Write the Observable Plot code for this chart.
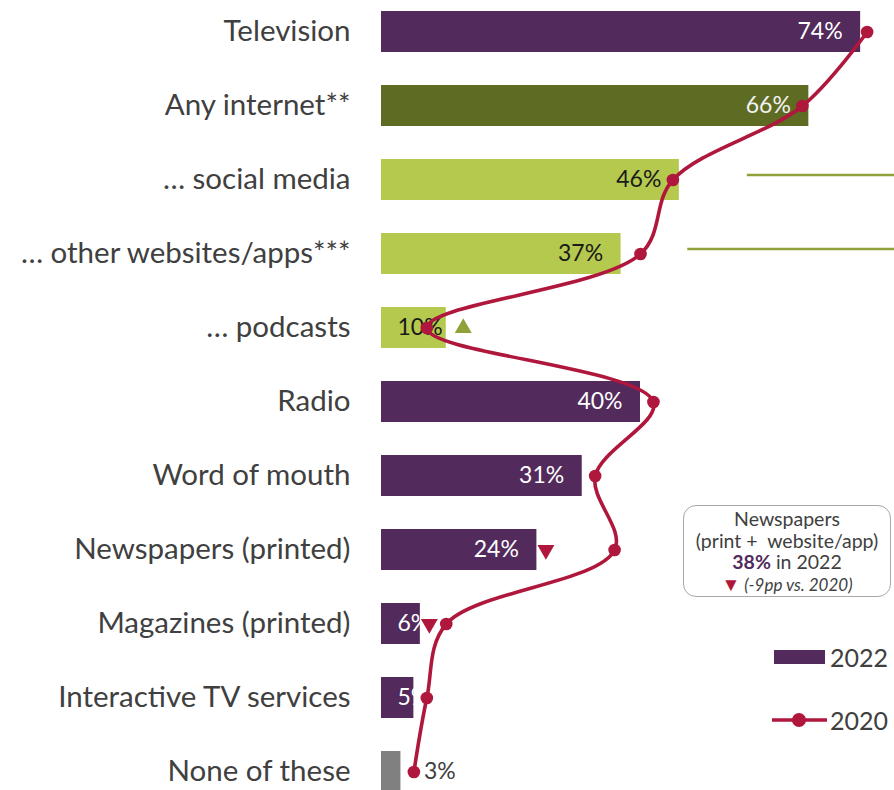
<!DOCTYPE html>
<html>
<head>
<meta charset="utf-8">
<script src="https://cdn.jsdelivr.net/npm/d3@7"></script>
<script src="https://cdn.jsdelivr.net/npm/@observablehq/plot@0.6"></script>
<style>
  body { margin: 0; background: #fff; font-family: Lato, "Open Sans", sans-serif; }
  #wrap { position: relative; width: 894px; height: 790px; overflow: hidden; }
  #chart svg { display: block; }
  .note {
    position: absolute; left: 683px; top: 505px; width: 208px; height: 92px;
    border: 1.5px solid #a8a8a8; border-radius: 13px; box-sizing: border-box;
    text-align: center; color: #404040; font-size: 19.5px; line-height: 21.5px; padding-top: 2px;
  }
  .note div { white-space: nowrap; }
  .note b { color: #522A5B; }
  .note .chg { font-style: italic; font-size: 17px; }
  .note .tri { color: #B0173C; font-style: normal; font-size: 19px; }
  .legend { position: absolute; left: 771px; color: #404040; font-size: 25px; display: flex; align-items: center; }
  .legend span.lbl { margin-left: 1px; }
</style>
</head>
<body>
<div id="wrap">
  <div id="chart"></div>
</div>
<script>
// ---- data ----
const categories = [
  "Television", "Any internet**", "… social media", "… other websites/apps***", "… podcasts",
  "Radio", "Word of mouth", "Newspapers (printed)", "Magazines (printed)",
  "Interactive TV services", "None of these"
];
const values2022 = [74, 66, 46, 37, 10, 40, 31, 24, 6, 5, 3];
const values2020 = [75, 65, 45, 40, 7, 42, 33, 36, 10, 7, 5];
const groups = ["main", "internet", "sub", "sub", "sub", "main", "main", "main", "main", "main", "none"];
const changeCats = ["… podcasts", "Newspapers (printed)", "Magazines (printed)"];
const changeDirs = ["up", "down", "down"];
const connectorCats = ["… social media", "… other websites/apps***"];
const connectorStarts = [56.5, 47.3];
const noteLines = ["Newspapers", "(print +  website/app)", "38%", "in 2022", "(-9pp vs. 2020)"];
const legendLabels = ["2022", "2020"];

// ---- styles ----
const barColor = {main: "#522A5B", internet: "#5E6B23", sub: "#B5C94E", none: "#808080"};
const labelColor = {main: "#ffffff", internet: "#f2f2f2", sub: "#1a1a1a", none: "#404040"};
const lineColor = "#B0173C";
const greenMark = "#8FA23A";

const rows = categories.map((c, i) => ({cat: c, v22: values2022[i], v20: values2020[i], g: groups[i]}));
const byCat = new Map(rows.map(r => [r.cat, r]));
const changes = changeCats.map((c, i) => ({cat: c, dir: changeDirs[i], v: byCat.get(c).v22}));
const connectors = connectorCats.map((c, i) => ({cat: c, x1: connectorStarts[i]}));

const W = 894, H = 790, ML = 381;
const pxPerUnit = 6.475;
const step = 74.3, firstCenter = 30;

const changeGap = {"… podcasts": 17, "Newspapers (printed)": 9, "Magazines (printed)": 9};

const chart = Plot.plot({
  width: W, height: H,
  marginLeft: ML, marginRight: 0, marginTop: 0, marginBottom: 0,
  style: {fontFamily: "Lato, 'Open Sans', sans-serif", overflow: "visible", background: "transparent"},
  x: {domain: [0, (W - ML) / pxPerUnit], axis: null},
  y: {
    domain: categories,
    range: [firstCenter - step / 2, firstCenter - step / 2 + step * categories.length],
    paddingInner: 0.44, paddingOuter: 0.22, axis: null
  },
  marks: [
    Plot.axisY({anchor: "left", tickSize: 0, tickPadding: 31, fontSize: 29.5, color: "#404040", label: null}),
    Plot.ruleY(connectors, {y: "cat", x1: "x1", x2: (W - ML) / pxPerUnit, stroke: greenMark, strokeWidth: 2.5, dy: -5}),
    Plot.barX(rows, {y: "cat", x: "v22", fill: d => barColor[d.g]}),
    // value labels, inside end of long bars
    Plot.text(rows.filter(d => d.v22 >= 20), {
      y: "cat", x: "v22", text: d => d.v22 + "%", textAnchor: "end", dx: -18,
      fill: d => labelColor[d.g], fontSize: 23
    }),
    // value labels, short bars
    Plot.text(rows.filter(d => d.v22 < 20 && d.g !== "none"), {
      y: "cat", x: 0, text: d => d.v22 + "%", textAnchor: "start", dx: 16,
      fill: d => labelColor[d.g], fontSize: 23
    }),
    // 2020 line
    Plot.line(rows, {y: "cat", x: "v20", stroke: lineColor, strokeWidth: 3.6, curve: "catmull-rom"}),
    Plot.dot(rows, {y: "cat", x: "v20", r: 6.3, fill: lineColor}),
    // outside label for "None of these"
    Plot.text(rows.filter(d => d.g === "none"), {
      y: "cat", x: "v22", text: d => d.v22 + "%", textAnchor: "start", dx: 23,
      fill: labelColor.none, fontSize: 23
    }),
    // change indicators
    ...changes.map(c => Plot.dot([c], {
      y: "cat", x: "v", dx: changeGap[c.cat], symbol: "triangle", r: 6.3,
      fill: c.dir === "up" ? greenMark : lineColor, rotate: c.dir === "up" ? 0 : 180
    }))
  ]
});
document.getElementById("chart").appendChild(chart);

// annotation box
const wrap = document.getElementById("wrap");
const note = document.createElement("div");
note.className = "note";
note.innerHTML =
  `<div>${noteLines[0]}</div>` +
  `<div>${noteLines[1].replace(/ /g, "&nbsp;")}</div>` +
  `<div><b>${noteLines[2]}</b> ${noteLines[3]}</div>` +
  `<div class="chg"><span class="tri">▼</span> ${noteLines[4]}</div>`;
wrap.appendChild(note);

// legend
const lg1 = document.createElement("div");
lg1.className = "legend";
lg1.style.top = "642px";
lg1.innerHTML = `<svg width="58" height="30"><rect x="3" y="8" width="51" height="14" fill="${barColor.main}"/></svg><span class="lbl">${legendLabels[0]}</span>`;
wrap.appendChild(lg1);
const lg2 = document.createElement("div");
lg2.className = "legend";
lg2.style.top = "705px";
lg2.innerHTML = `<svg width="58" height="30"><line x1="1" x2="56" y1="15" y2="15" stroke="${lineColor}" stroke-width="3.6"/><circle cx="28" cy="15" r="7" fill="${lineColor}"/></svg><span class="lbl">${legendLabels[1]}</span>`;
wrap.appendChild(lg2);
</script>
</body>
</html>
